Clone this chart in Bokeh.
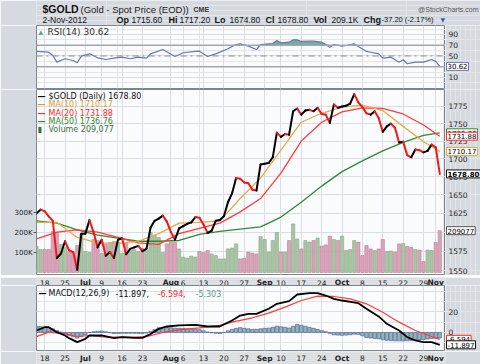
import math
import numpy as np
from bokeh.plotting import figure
from bokeh.models import (Range1d, LinearAxis, LinearScale, FixedTicker, Label, Span, Grid)
from bokeh.layouts import column, row
from bokeh.embed import file_html
from bokeh.resources import INLINE

# ---------------- data (trading-day index 0..99 : 14-Jun-2012 .. 2-Nov-2012) -------------
week_ticks = [2, 7, 16, 21, 26, 36, 41, 46, 51, 60, 65, 70, 80, 85, 90, 95]
week_labels = ["18", "25", "9", "16", "23", "6", "13", "20", "27", "10", "17", "24",
               "8", "15", "22", "29"]
month_ticks = [12, 33, 56, 75, 98]
month_labels = ["Jul", "Aug", "Sep", "Oct", "Nov"]

close = [1625, 1630, 1628, 1621, 1615, 1566, 1572, 1588, 1576, 1574,
         1551, 1598, 1598, 1616, 1600, 1580, 1590, 1569, 1574, 1566,
         1590, 1592, 1571, 1578, 1580, 1582, 1575, 1578, 1606, 1615,
         1618, 1622, 1614, 1600, 1590, 1605, 1608, 1611, 1613, 1620,
         1619, 1610, 1599, 1602, 1615, 1616, 1621, 1640, 1652, 1673,
         1672, 1667, 1666, 1657, 1656, 1692, 1693, 1694, 1702, 1737,
         1731, 1735, 1734, 1768, 1772, 1763, 1769, 1770, 1768, 1773,
         1764, 1763, 1751, 1778, 1773, 1775, 1776, 1779, 1793, 1781,
         1774, 1765, 1763, 1768, 1758, 1738, 1746, 1750, 1744, 1723,
         1724, 1705, 1702, 1713, 1712, 1709, 1711, 1720, 1716, 1678.8]

volume_k = [130, 115, 115, 115, 205, 200, 140, 125, 100, 100,
            135, 190, 105, 100, 165, 160, 95, 140, 150, 155,
            150, 95, 145, 110, 115, 105, 120, 110, 200, 185,
            175, 100, 143, 150, 150, 118, 77, 72, 82, 77,
            105, 100, 110, 93, 85, 68, 68, 118, 122, 143,
            68, 72, 102, 97, 93, 180, 165, 102, 160, 200,
            102, 102, 160, 243, 168, 118, 160, 152, 160, 172,
            132, 138, 182, 165, 160, 182, 110, 115, 160, 152,
            85, 135, 118, 110, 118, 165, 105, 107, 102, 143,
            145, 130, 125, 115, 112, 55, 112, 110, 150, 209.077]

ma_idx = [0, 5, 10, 15, 20, 25, 30, 35, 40, 45, 50, 55, 60, 65, 70, 75, 80, 85, 90, 95, 99]
ma10 = [1613, 1613, 1593, 1586, 1585, 1588, 1598, 1612, 1613, 1615, 1645, 1673, 1712,
        1752, 1765, 1774, 1777, 1769, 1746, 1724, 1710.17]
ma20 = [1591, 1600, 1603, 1600, 1593, 1586, 1584, 1598, 1605, 1612, 1627, 1645, 1680,
        1725, 1752, 1767, 1773, 1772, 1764, 1748, 1731.88]
ma50 = [1615, 1612, 1603, 1596, 1592, 1588, 1588, 1589, 1597, 1601, 1604, 1607, 1620,
        1640, 1662, 1682, 1697, 1711, 1723, 1733, 1736.76]

rsi_idx = [0, 3, 4, 5, 7, 9, 10, 11, 13, 15, 17, 19, 21, 23, 25, 27, 28, 31, 34, 36,
           39, 40, 42, 44, 47, 49, 50, 52, 54, 55, 57, 58, 59, 60, 62, 63, 64, 65, 67, 68,
           70, 72, 73, 75, 76, 78, 79, 81, 82, 84, 85, 87, 89, 90, 91, 93, 95, 97, 98, 99]
rsi_val = [58.4, 57, 51, 38.5, 44.8, 41.6, 37.3, 49.6, 54, 46.6, 43.5, 46, 47.8, 44.8,
           47.8, 46, 54, 62, 49, 56, 58.4, 59, 49, 54, 63.4, 71.4, 72.7, 68.3, 62, 71.4,
           72.7, 72.7, 78.8, 74.5, 75.7, 80, 80, 77, 77.6, 77.6, 75.7, 66.4, 71.4, 68.3,
           69.5, 72.7, 67.7, 58.4, 57, 54, 46, 47.8, 38.5, 42.9, 35.5, 38.5, 38.5, 43.5,
           40, 30.62]

macd_idx = [0, 2, 3, 5, 7, 8, 10, 12, 13, 16, 19, 21, 24, 26, 28, 30, 32, 35, 39, 42,
            45, 48, 50, 52, 54, 57, 59, 62, 64, 67, 69, 71, 73, 75, 79, 81, 84, 86, 89, 91,
            93, 95, 97, 99]
macd_val = [1.9, 5.1, 5.1, 0.3, -2.9, -5.5, -9.3, -6.1, -2.9, -2.9, -5.5, -4.5, -5.2,
            -5.2, -1.5, 3.5, 5.8, 6.8, 7.4, 5.8, 5.8, 11.6, 16.4, 18, 18, 22.9, 27.7, 30.3,
            36.7, 38, 38, 35.7, 32.5, 30.9, 28.3, 22.9, 15.5, 8.4, 1.9, -4.5, -7.7, -9.3,
            -9.3, -11.897]
sig_idx = [0, 3, 7, 10, 13, 17, 24, 27, 30, 33, 36, 40, 45, 48, 53, 57, 61, 65, 69, 73,
           77, 81, 85, 89, 93, 97, 99]
sig_val = [-4, 0.3, -1.3, -3.9, -2.9, -4.5, -4.5, -4, -1, 1.5, 3, 4.5, 6.8, 10, 14.2,
           18.7, 24.5, 30.9, 35.1, 34.8, 32.5, 27.7, 19.6, 10, 1.9, -3.9, -6.594]
hist = [5.9, 5.7, 5.4, 4.8, 3.5, 2, 0.5, -1.6, -3, -4.2,
        -5.4, -4, -2.2, 0, 0.8, 1.2, 1.5, 0.6, -0.3, -1,
        -1, -0.8, -0.8, -0.7, -0.7, -0.9, -1, -0.6, 1, 2.8,
        4.5, 4.8, 4.8, 4.5, 4.2, 4, 3.8, 3.5, 3.2, 3,
        2.7, 1.6, 0.5, -0.3, -0.7, -1, 0, 1.6, 3, 4,
        4.7, 4, 3.5, 3, 3, 3.5, 4, 4.2, 5, 6.1,
        5.5, 5, 4.3, 6, 7.7, 7, 6, 5, 4, 2.9,
        1.8, 0.7, -0.8, -2.3, -2.5, -2.7, -2.5, -2.2, -1.6, -1.8,
        -3.2, -4.8, -5.3, -5.8, -6.1, -7, -7.5, -7.8, -8, -8.1,
        -8.2, -8, -7.8, -7.5, -7.2, -6.8, -6.3, -5.9, -5.5, -5.303]

price_ticks = [1550, 1575, 1600, 1625, 1650, 1675, 1700, 1725, 1750, 1775]
vol_ticks = [100, 200, 300]
vol_tick_labels = ["100K", "200K", "300K"]
rsi_ticks = [10, 50, 70, 90]
rsi_grid = [10, 30, 50, 70, 90]
macd_ticks = [0, 20]
macd_grid = [0, 20, 40]

hdr_bold = ["Op", "Hi", "Lo", "Cl", "Vol", "Chg"]
hdr_vals = ["1715.60", "1717.20", "1674.80", "1678.80", "209.1K", "-37.20 (-2.17%)"]

# ---------------- styling / layout constants -------------
BG = "#D5DAE1"
PANEL = "#FAFBFC"
GRIDC = "#DADDE3"
OUTL = "#7D858F"
W, FL, FR, FW = 480, 36, 35, 409
AXF = "DejaVu Sans"
HF = "Liberation Sans"
xr = Range1d(0.0, 100.4)
all_ticks = sorted(week_ticks + month_ticks)
idx = list(range(len(close)))


def lab(p, x, y, text, size="8px", color="#000000", bold=False, font=AXF,
        align="left", baseline="middle", xu="screen", yu="screen", **kw):
    p.add_layout(Label(x=x, y=y, x_units=xu, y_units=yu, text=text, text_font=font,
                       text_font_size=size, text_color=color,
                       text_font_style="bold" if bold else "normal",
                       text_align=align, text_baseline=baseline, **kw))


def panel(fh, top, bottom, y_range, **kw):
    p = figure(frame_width=FW, frame_height=fh, x_range=xr, y_range=y_range,
               x_axis_location=None, y_axis_location=None, toolbar_location=None,
               output_backend="svg", min_border=0, min_border_left=FL,
               min_border_right=0, min_border_top=top, min_border_bottom=bottom, **kw)
    p.border_fill_color = BG
    p.background_fill_color = PANEL
    p.outline_line_color = OUTL
    p.add_layout(Grid(dimension=0, ticker=FixedTicker(ticks=all_ticks, minor_ticks=[]),
                      grid_line_color=GRIDC))
    return p


def ygrid(p, ticks):
    p.add_layout(Grid(dimension=1, ticker=FixedTicker(ticks=ticks, minor_ticks=[]),
                      grid_line_color=GRIDC))


def strip(height, y_range, **kw):
    s = figure(frame_width=FR, frame_height=height, x_range=Range1d(0, FR), y_range=y_range,
               x_axis_location=None, y_axis_location=None, toolbar_location=None,
               output_backend="svg", min_border=0, **kw)
    s.border_fill_color = BG
    s.background_fill_color = BG
    s.outline_line_color = None
    return s


def tick_labels(s, ticks, texts=None, yname=None):
    texts = texts or [str(t) for t in ticks]
    for t, tx in zip(ticks, texts):
        kw = {"y_range_name": yname} if yname else {}
        lab(s, 3, t, tx, size="7.5px", color="#222222", yu="data", **kw)


def tag(s, y, text, border, bold=False, yname=None):
    kw = dict(background_fill_color="white", border_line_color=border,
              border_line_width=1, padding=1)
    if yname:
        kw["y_range_name"] = yname
    lab(s, 1, y, text, size="7px", bold=bold, yu="data", **kw)


def xstrip(height):
    s = figure(frame_width=FW, frame_height=height, x_range=xr, y_range=Range1d(0, height),
               x_axis_location=None, y_axis_location=None, toolbar_location=None,
               output_backend="svg", min_border=0, min_border_left=FL,
               min_border_right=FR)
    s.border_fill_color = BG
    s.background_fill_color = BG
    s.outline_line_color = None
    mid = height / 2.0
    for t, l in zip(week_ticks, week_labels):
        lab(s, t, mid, l, size="7.5px", color="#222222", xu="data",
            baseline="middle", align="center")
    for t, m in zip(month_ticks, month_labels):
        lab(s, t, mid, m, size="7.5px", bold=True, color="#222222", xu="data",
            baseline="middle", align="center")
    return s


# ---------------- header: frame spans canvas x 30..480, data x == canvas px -------------
HH = 25
HL, HR = 30, 0
hd = figure(frame_width=W - HL - HR, frame_height=HH, x_range=Range1d(HL, W - HR),
            y_range=Range1d(HH, 0), x_axis_location=None, y_axis_location=None,
            toolbar_location=None, output_backend="svg", min_border=0,
            min_border_left=HL, min_border_right=HR, title=None)
hd.border_fill_color = BG
hd.background_fill_color = BG
hd.outline_line_color = None


def htext(x, y, t, size, bold=False, color="#111111", align="left", font=HF):
    lab(hd, x, y, t, size=size, bold=bold, color=color, align=align, font=font,
        xu="data", yu="data")


htext(36, 8, "$GOLD", "10.5px", bold=True)
htext(74, 8.5, "(Gold - Spot Price (EOD))", "9.5px", color="#222222")
htext(187, 8.5, "CME", "7px", bold=True, color="#333333")
htext(472, 8.5, "@StockCharts.com", "7px", color="#555555", align="right")
htext(36, 19, "2-Nov-2012", "8.5px")
bold_x = [110, 162, 208, 259, 307, 357]
val_x = [125, 173, 223, 271, 325, 375]
val_size = ["8.5px", "8.5px", "8.5px", "8.5px", "8.5px", "7.5px"]
for bx, bt, vx, vt, vs in zip(bold_x, hdr_bold, val_x, hdr_vals, val_size):
    htext(bx, 19, bt, "9px", bold=True)
    htext(vx, 19, vt, vs)
htext(434, 19, "▼", "6px", color="#3A64B0", font=AXF)

# ---------------- RSI panel -------------
RSI_FH, RSI_TOP, RSI_BOT = 63, 0, 1
rsi_range = (-10.5, 106.7)
pr = panel(RSI_FH, RSI_TOP, RSI_BOT, Range1d(*rsi_range))
ygrid(pr, rsi_grid)
rsi_arr = np.array(rsi_val)
pr.varea(x=rsi_idx, y1=70, y2=np.maximum(rsi_arr, 70), fill_color="#5E9E8C", fill_alpha=0.85)
for lvl, dash, col, w in [(70, "solid", "#A4A8AE", 1.6), (30, "solid", "#A4A8AE", 1.6),
                          (50, "dashdot", "#8A8E94", 1)]:
    pr.add_layout(Span(location=lvl, dimension="width", line_color=col,
                       line_dash=dash, line_width=w))
pr.line(rsi_idx, rsi_val, line_color="#6A76AE", line_width=1.2)
lab(pr, 2, RSI_FH - 6, "▲", size="6px", color="#5E9E8C")
lab(pr, 11, RSI_FH - 6, "RSI(14) 30.62", size="9px", color="#333333")
ppx = (rsi_range[1] - rsi_range[0]) / RSI_FH
sr = strip(RSI_FH + RSI_TOP + RSI_BOT,
           Range1d(rsi_range[0] - RSI_BOT * ppx, rsi_range[1] + RSI_TOP * ppx))
tick_labels(sr, rsi_ticks)
tag(sr, 30.62, "30.62", "#6A76AE")

# ---------------- main price panel -------------
M_FH, M_TOP, M_BOT = 185, 0, 1
p_lo, p_hi = 1545, 1800
v_lo, v_hi = -10, 915
pm = panel(M_FH, M_TOP, M_BOT, Range1d(p_lo, p_hi), y_axis_type="log")
ygrid(pm, price_ticks)
pm.extra_y_ranges = {"vol": Range1d(v_lo, v_hi)}
pm.extra_y_scales = {"vol": LinearScale()}
vax = LinearAxis(y_range_name="vol", ticker=FixedTicker(ticks=vol_ticks, minor_ticks=[]),
                 major_label_overrides={t: l for t, l in zip(vol_ticks, vol_tick_labels)})
vax.axis_line_color = None
vax.major_tick_line_color = "#555555"
vax.major_tick_out = 3
vax.major_tick_in = 0
vax.minor_tick_line_color = None
vax.major_label_text_font = AXF
vax.major_label_text_font_size = "7px"
vax.major_label_text_color = "#222222"
vax.major_label_standoff = 1
pm.add_layout(vax, "left")

up = [True] + [close[i] >= close[i - 1] for i in range(1, len(close))]
vfill = ["#AAC5A6" if u else "#D9A4B9" for u in up]
vline = ["#88A884" if u else "#BF7F99" for u in up]
pm.vbar(x=idx, top=volume_k, bottom=0, width=0.8, fill_color=vfill, line_color=vline,
        line_width=0.6, y_range_name="vol")
pm.line(ma_idx, ma50, line_color="#2F8A2F", line_width=1.3)
pm.line(ma_idx, ma20, line_color="#FF3B3B", line_width=1.3)
pm.line(ma_idx, ma10, line_color="#E6AA45", line_width=1.3)
seg_col = ["#000000" if close[i + 1] >= close[i] else "#F01818" for i in range(len(close) - 1)]
pm.segment(x0=idx[:-1], y0=close[:-1], x1=idx[1:], y1=close[1:], line_color=seg_col,
           line_width=2, line_cap="round")

legend = [("$GOLD (Daily) 1678.80", "#111111", "—"),
          ("MA(10) 1710.17", "#E09A30", "—"),
          ("MA(20) 1731.88", "#FF2A2A", "—"),
          ("MA(50) 1736.76", "#2F8A2F", "—"),
          ("Volume 209,077", "#3F6F3F", "▮")]
for k, (t, c, ic) in enumerate(legend):
    yy = M_FH - 7 - 8.3 * k
    lab(pm, 1, yy, ic, size="8px", bold=True, color=c)
    lab(pm, 12, yy, t, size="8px", color=c)

kpx = math.log(p_hi / p_lo) / M_FH
vpx = (v_hi - v_lo) / M_FH
sm = strip(M_FH + M_TOP + M_BOT,
           Range1d(p_lo * math.exp(-M_BOT * kpx), p_hi * math.exp(M_TOP * kpx)),
           y_axis_type="log")
sm.extra_y_ranges = {"vol": Range1d(v_lo - M_BOT * vpx, v_hi + M_TOP * vpx)}
sm.extra_y_scales = {"vol": LinearScale()}
tick_labels(sm, price_ticks)
tag(sm, 209.077, "209077", "#555555", yname="vol")
tag(sm, 1736.76, "1736.76", "#2F8A2F")
tag(sm, 1731.88, "1731.88", "#FF2A2A")
tag(sm, 1710.17, "1710.17", "#E6AA45")
tag(sm, 1678.8, "1678.80", "#111111", bold=True)

xs1 = xstrip(10)

# ---------------- MACD panel -------------
C_FH, C_TOP, C_BOT = 65, 0, 1
c_lo, c_hi = -17.4, 45.4
pc = panel(C_FH, C_TOP, C_BOT, Range1d(c_lo, c_hi))
ygrid(pc, macd_grid)
pc.vbar(x=idx, top=hist, bottom=0, width=0.85, fill_color="#93B6AE", line_color="#5564A8",
        line_width=0.7)
pc.line(sig_idx, sig_val, line_color="#FF3B3B", line_width=1.2)
pc.line(macd_idx, macd_val, line_color="#000000", line_width=1.8)
ly = C_FH - 7.5
lab(pc, 2, ly, "—", size="8px", bold=True)
lab(pc, 12, ly, "MACD(12,26,9)", size="8px", color="#111111")
lab(pc, 79, ly, "-11.897,", size="8px", color="#111111")
lab(pc, 121, ly, "-6.594,", size="8px", color="#FF2A2A")
lab(pc, 159, ly, "-5.303", size="8px", color="#5A9A8A")
cpx = (c_hi - c_lo) / C_FH
sc = strip(C_FH + C_TOP + C_BOT, Range1d(c_lo - C_BOT * cpx, c_hi + C_TOP * cpx))
tick_labels(sc, macd_ticks)
tag(sc, -6.594, "-6.594", "#FF2A2A")
tag(sc, -11.897, "-11.897", "#111111")

xs2 = xstrip(13)

layout = column(hd, row(pr, sr), row(pm, sm), xs1, row(pc, sc), xs2)
open("out.html", "w").write(file_html(layout, INLINE))
